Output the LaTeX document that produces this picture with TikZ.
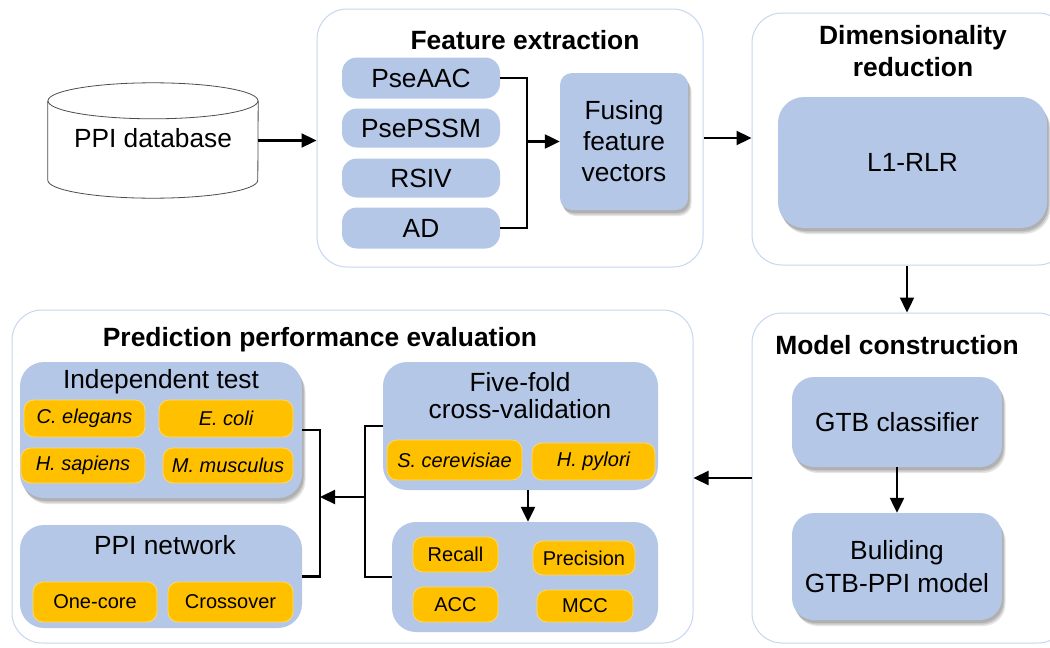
\documentclass[tikz,border=0pt]{standalone}
\usepackage{fontspec}
\setmainfont{Liberation Sans}
\usetikzlibrary{arrows.meta,shadows,calc}
\definecolor{bluebox}{HTML}{B4C7E7}
\definecolor{contline}{HTML}{C6D7F0}
\definecolor{orangebox}{HTML}{FFC000}
\definecolor{orangeline}{HTML}{FFD966}
\tikzset{
  cont/.style={draw=contline, line width=1pt, rounded corners=30pt, fill=white, inner sep=0pt},
  bbox/.style={fill=bluebox, draw=none, rounded corners=15pt, inner sep=0pt, align=center, font=\fontsize{26.3}{31}\selectfont},
  shad/.style={
    drop shadow={shadow xshift=1.5pt, shadow yshift=-3pt, fill=black, opacity=0.12},
    drop shadow={shadow xshift=2.5pt, shadow yshift=-4.5pt, fill=black, opacity=0.12},
    drop shadow={shadow xshift=3.5pt, shadow yshift=-6pt, fill=black, opacity=0.1}},
  obox/.style={fill=orangebox, draw=orangeline, line width=0.8pt, rounded corners=10pt, inner sep=0pt, font=\fontsize{20}{24}\selectfont},
  ttl/.style={font=\bfseries\fontsize{26.4}{32}\selectfont, align=center, inner sep=0pt},
  lbl/.style={font=\fontsize{26.3}{28}\selectfont, align=center, inner sep=0pt},
  conn/.style={line width=2.3pt},
  arr/.style={conn, -{Triangle[length=15pt,width=14pt]}},
  cyl/.style={draw=black!70, line width=0.8pt, fill=white}
}
\begin{document}
\begin{tikzpicture}[x=1pt,y=-1pt]
\useasboundingbox (0,0) rectangle (1050,648);
\clip (0,0) rectangle (1050,648);
\fill[white] (0,0) rectangle (1050,648);

% database cylinder
\node[inner sep=0pt, minimum width=210pt, minimum height=79pt] (db) at (153,140.5) {};
\draw[cyl] (db.north west) -- (db.south west) arc[start angle=180,end angle=360,x radius=105pt,y radius=18pt] -- (db.north east);
\draw[cyl] (db.north) ellipse[x radius=105pt, y radius=18pt];
\node[lbl] (dbt) at (153,138) {PPI database};

% containers
\node[cont, minimum width=386pt, minimum height=258pt] (fe) at (510,138) {};
\node[cont, minimum width=316pt, minimum height=252pt] (dr) at (910,139) {};
\node[cont, minimum width=316pt, minimum height=330pt] (mc) at (910,478) {};
\node[cont, minimum width=681pt, minimum height=333pt] (pe) at (352.5,476.5) {};

% titles
\node[ttl] (fet) at (525,40) {Feature extraction};
\node[ttl] (drt) at (913,51) {Dimensionality\\reduction};
\node[ttl] (mct) at (897,345) {Model construction};
\node[ttl] (pet) at (320,340) {Prediction performance evaluation};

% feature extraction
\node[bbox, minimum width=158pt, minimum height=41pt] (pseaac) at (421,78) {PseAAC};
\node[bbox, minimum width=158pt, minimum height=39pt] (psepssm) at (421,128) {PsePSSM};
\node[bbox, minimum width=158pt, minimum height=39pt] (rsiv) at (421,178) {RSIV};
\node[bbox, minimum width=158pt, minimum height=41pt] (ad) at (421,228) {AD};
\node[bbox, shad, rounded corners=12pt, minimum width=128pt, minimum height=137pt] (fuse) at (624,141.5) {Fusing\\feature\\vectors};

% dimensionality reduction
\node[bbox, shad, rounded corners=26pt, minimum width=269pt, minimum height=131pt] (l1) at (912.5,162.5) {L1-RLR};

% model construction
\node[bbox, shad, rounded corners=22pt, minimum width=210pt, minimum height=90pt] (gtb) at (897,422) {GTB classifier};
\node[bbox, shad, rounded corners=22pt, minimum width=210pt, minimum height=107pt, font=\fontsize{26.3}{33}\selectfont] (bld) at (897,566.5) {Buliding\\GTB-PPI model};

% prediction performance evaluation
\node[bbox, shad, rounded corners=24pt, minimum width=282pt, minimum height=136pt] (indep) at (161,430) {};
\node[lbl] (indept) at (161,382) {Independent test};
\node[obox, minimum width=121pt, minimum height=37pt] (ce) at (84.5,418.5) {\itshape C. elegans};
\node[obox, minimum width=134pt, minimum height=37pt] (ec) at (226,418.5) {\itshape E. coli};
\node[obox, minimum width=124pt, minimum height=35pt] (hs) at (83,465.5) {\itshape H. sapiens};
\node[obox, minimum width=130pt, minimum height=35pt] (mm) at (228,465.5) {\itshape M. musculus};

\node[bbox, rounded corners=24pt, minimum width=282pt, minimum height=103pt] (ppi) at (161,576.5) {};
\node[lbl] (ppit) at (165,545) {PPI network};
\node[obox, minimum width=124pt, minimum height=40pt] (oc) at (95,602) {One-core};
\node[obox, minimum width=125pt, minimum height=40pt] (co) at (230.5,602) {Crossover};

\node[bbox, rounded corners=24pt, minimum width=275pt, minimum height=128pt] (ff) at (520.5,426) {};
\node[lbl, font=\fontsize{26.3}{27}\selectfont] (fft) at (520,396) {Five-fold\\cross-validation};
\node[obox, minimum width=135pt, minimum height=40pt] (sc) at (454.5,460) {\itshape S. cerevisiae};
\node[obox, minimum width=123pt, minimum height=37pt] (hp) at (593.5,461.5) {\itshape H. pylori};

\node[bbox, rounded corners=24pt, minimum width=266pt, minimum height=110pt] (met) at (525,577) {};
\node[obox, minimum width=85pt, minimum height=35pt] (rc) at (455.5,554.5) {Recall};
\node[obox, minimum width=102pt, minimum height=34pt] (pr) at (584,558) {Precision};
\node[obox, minimum width=85pt, minimum height=35pt] (acc) at (455.5,604.5) {ACC};
\node[obox, minimum width=96pt, minimum height=32pt] (mcc) at (585,606) {MCC};

% connectors
\draw[arr] (db.east) -- (db.east -| fe.west);
\coordinate (jf) at (527,141.5);
\draw[conn] (pseaac.east) -- (pseaac.east -| jf) -- (ad.east -| jf) -- (ad.east);
\draw[arr] (jf) -- (fuse.west);
\draw[arr] (fe.east) -- (fe.east -| dr.west);
\coordinate (dd) at (907,0);
\draw[arr] (dr.south -| dd) -- (mc.north -| dd);
\draw[arr] (gtb.south) -- (bld.north);
\draw[arr] (mc.west) -- (mc.west -| pe.east);
\coordinate (bl) at (320,497);
\coordinate (br) at (365,497);
\draw[conn] (indep.east) -- (indep.east -| bl) -- (ppi.east -| bl) -- (ppi.east);
\draw[conn] (ff.west) -- (ff.west -| br) -- (met.west -| br) -- (met.west);
\draw[arr] (br) -- (bl);
\coordinate (fm) at (528,0);
\draw[arr] (ff.south -| fm) -- (met.north -| fm);
\end{tikzpicture}
\end{document}
